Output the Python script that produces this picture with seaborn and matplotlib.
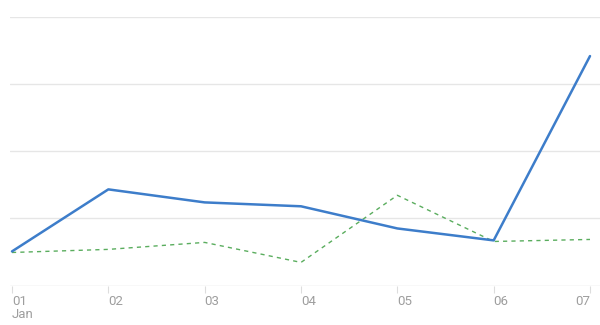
import matplotlib
matplotlib.use("Agg")
import matplotlib.pyplot as plt
import seaborn as sns
import pandas as pd

days = ["01", "02", "03", "04", "05", "06", "07"]
current = [25.4, 71.6, 61.9, 59.0, 42.5, 33.6, 170.9]
previous = [24.6, 26.9, 32.1, 17.2, 67.2, 32.8, 34.3]

sns.set_theme(style="white")
plt.rcParams['font.family'] = ['Roboto', 'DejaVu Sans']

df = pd.DataFrame({"x": range(len(days)), "current": current, "previous": previous})

fig = plt.figure(figsize=(6, 3.25), dpi=100)
ax = fig.add_axes([10/600, 1 - 285.5/325, 590/600, (285.5 - 17)/325])

for y in [50, 100, 150, 200]:
    ax.axhline(y, color="#e6e6e6", lw=1, zorder=0)
ax.axhline(0, color="#dddddd", lw=1, zorder=1)

sns.lineplot(data=df, x="x", y="previous", ax=ax, color="#5aad5e", lw=1,
             linestyle=(0, (3, 3)), zorder=2)
sns.lineplot(data=df, x="x", y="current", ax=ax, color="#3d7dca", lw=1.8,
             zorder=3)

ax.set_ylim(0, 200)
ax.set_xlim(-2/96.33, 6 + 10/96.33)
ax.set_xlabel("")
ax.set_ylabel("")
ax.set_yticks([])
for s in ax.spines.values():
    s.set_visible(False)

ax.set_xticks(range(len(days)))
labels = [d for d in days]
labels[0] = "01\nJan"
ax.set_xticklabels(labels)
ax.tick_params(axis="x", length=5, width=0.8, color="#dddddd", labelcolor="#9e9e9e",
               labelsize=9.5, pad=1.5, bottom=True, direction="out")
for i, t in enumerate(ax.get_xticklabels()):
    if i == len(days) - 1:
        t.set_horizontalalignment("right")
    else:
        t.set_horizontalalignment("left")
    t.set_multialignment("left")
    t.set_linespacing(1.0)

fig.savefig("out.png", dpi=100, facecolor="white")
